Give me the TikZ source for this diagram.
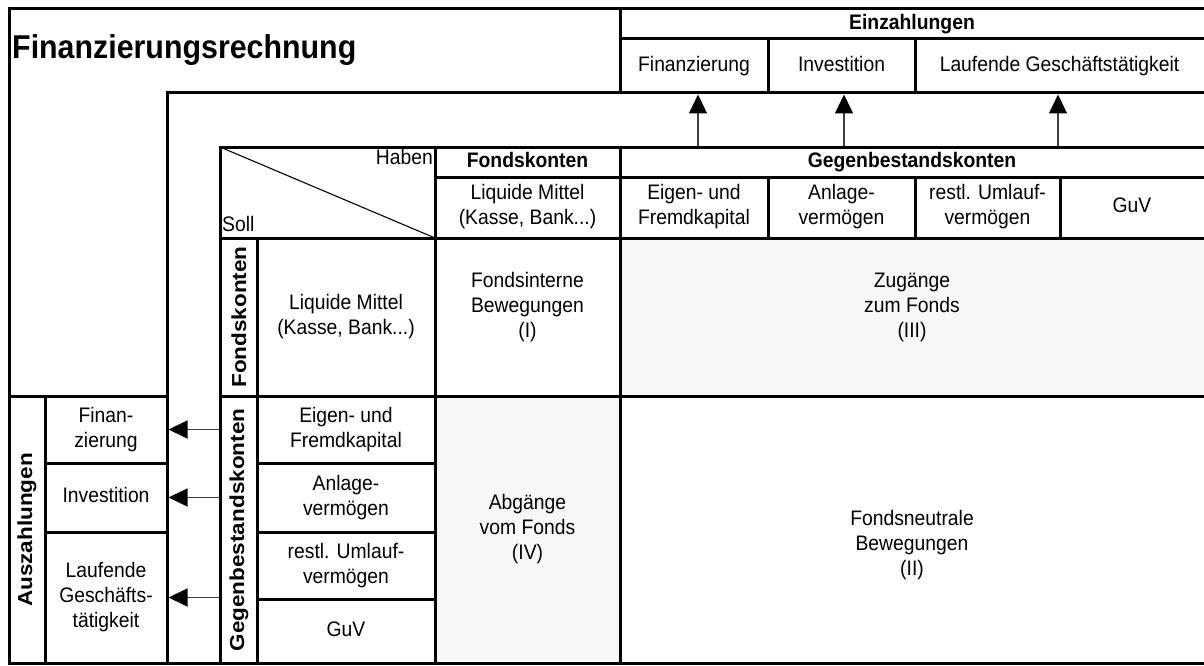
\documentclass[tikz,border=0pt]{standalone}
\usepackage{fontspec}
\setmainfont{Liberation Sans}[FakeStretch=0.92]
\newfontfamily\upright{Liberation Sans}
\usetikzlibrary{arrows.meta}
\definecolor{cellgray}{RGB}{247,247,247}
\begin{document}
\begin{tikzpicture}[x=1pt,y=-1pt,
  frame/.style={line width=3pt, line cap=rect, line join=miter},
  thinline/.style={line width=1.1pt},
  lbl/.style={align=center, font=\fontsize{21}{25}\selectfont, inner sep=0pt},
  one/.style={text height=15pt, text depth=4.5pt},
  hdr/.style={align=center, font=\fontsize{21}{25}\selectfont\bfseries, inner sep=0pt},
  vlbl/.style={rotate=90, font=\upright\fontsize{22.5}{25}\selectfont\bfseries, inner sep=0pt},
  flow/.style={line width=1.3pt, draw=black!75, -{Triangle[length=19pt,width=18pt,color=black]}},
  ]
\useasboundingbox (0,0) rectangle (1204,666);
% shaded cells
\fill[cellgray] (620,238) rectangle (1210,396);
\fill[cellgray] (435,396) rectangle (620,663);
% outer frame
\draw[frame] (1210,9) -- (9,9) -- (9,663) -- (1210,663);
% Einzahlungen block
\draw[frame] (620,9) -- (620,93);
\draw[frame] (620,39) -- (1210,39);
\draw[frame] (768,39) -- (768,93);
\draw[frame] (915,39) -- (915,93);
% second frame
\draw[frame] (167,663) -- (167,93) -- (1210,93);
% Auszahlungen block
\draw[frame] (9,396) -- (167,396);
\draw[frame] (45,396) -- (45,663);
\draw[frame] (45,463) -- (167,463);
\draw[frame] (45,532) -- (167,532);
% third frame (matrix)
\draw[frame] (220,663) -- (220,147) -- (1210,147);
\draw[frame] (435,147) -- (435,663);
\draw[frame] (620,147) -- (620,663);
\draw[frame] (435,177) -- (1210,177);
\draw[frame] (768,177) -- (768,238);
\draw[frame] (915,177) -- (915,238);
\draw[frame] (1060,177) -- (1060,238);
\draw[frame] (220,238) -- (1210,238);
\draw[frame] (257,238) -- (257,663);
\draw[frame] (220,396) -- (1210,396);
\draw[frame] (257,463) -- (435,463);
\draw[frame] (257,532) -- (435,532);
\draw[frame] (257,599) -- (435,599);
% diagonal of the corner cell
\coordinate (cornerTL) at (220,147);
\coordinate (cornerBR) at (435,238);
\draw[thinline] (cornerTL) -- (cornerBR);

% texts
\node[anchor=west, inner sep=0pt, font=\fontsize{33}{38}\selectfont\bfseries] (title) at (12,50) {Finanzierungsrechnung};
\node[hdr, one] (einz) at (912,24) {Einzahlungen};
\node[lbl, one] (einFin) at (694,66) {Finanzierung};
\node[lbl, one] (einInv) at (841.5,66) {Investition};
\node[lbl, one] (einLfd) at (1059.5,66) {Laufende Geschäftstätigkeit};

\node[lbl, one, anchor=east] (haben) at (433,159) {Haben};
\node[lbl, one, anchor=west] (soll) at (222,226) {Soll};
\node[hdr, one] (fkH) at (527.5,162) {Fondskonten};
\node[hdr, one] (gbkH) at (912,162) {Gegenbestandskonten};
\node[lbl] (liqH) at (527.5,207) {Liquide Mittel\\(Kasse, Bank...)};
\node[lbl] (ekH) at (694,207) {Eigen- und\\Fremdkapital};
\node[lbl] (avH) at (841.5,207) {Anlage-\\vermögen};
\node[lbl] (uvH) at (987.5,207) {restl. Umlauf-\\vermögen};
\node[lbl, one] (guvH) at (1132,207) {GuV};

\node[vlbl] (fkV) at (239,317) {\scalebox{1}[0.9]{Fondskonten}};
\node[lbl] (liqV) at (346,317) {Liquide Mittel\\(Kasse, Bank...)};
\node[vlbl] (gbkV) at (239,530) {\scalebox{1}[0.9]{Gegenbestandskonten}};
\node[lbl] (ekV) at (346,429.5) {Eigen- und\\Fremdkapital};
\node[lbl] (avV) at (346,497.5) {Anlage-\\vermögen};
\node[lbl] (uvV) at (346,565.5) {restl. Umlauf-\\vermögen};
\node[lbl, one] (guvV) at (346,631) {GuV};

\node[vlbl] (ausV) at (27,530) {\scalebox{1}[0.9]{Auszahlungen}};
\node[lbl] (ausFin) at (106,429.5) {Finan-\\zierung};
\node[lbl, one] (ausInv) at (106,497.5) {Investition};
\node[lbl] (ausLfd) at (106,597.5) {Laufende\\Geschäfts-\\tätigkeit};

\node[lbl] (fi) at (527.5,307) {Fondsinterne\\Bewegungen\\(I)};
\node[lbl] (zu) at (912,307) {Zugänge\\zum Fonds\\(III)};
\node[lbl] (ab) at (527.5,529) {Abgänge\\vom Fonds\\(IV)};
\node[lbl] (fn) at (912,545) {Fondsneutrale\\Bewegungen\\(II)};

% arrows up to Einzahlungen
\coordinate (u1s) at (698,145.5); \coordinate (u1e) at (698,94.5);
\coordinate (u2s) at (844,145.5); \coordinate (u2e) at (844,94.5);
\coordinate (u3s) at (1058,145.5); \coordinate (u3e) at (1058,94.5);
\draw[flow] (u1s) -- (u1e);
\draw[flow] (u2s) -- (u2e);
\draw[flow] (u3s) -- (u3e);
% arrows left to Auszahlungen
\coordinate (l1s) at (218.5,429.5); \coordinate (l1e) at (168.5,429.5);
\coordinate (l2s) at (218.5,497.5); \coordinate (l2e) at (168.5,497.5);
\coordinate (l3s) at (218.5,597.5); \coordinate (l3e) at (168.5,597.5);
\draw[flow] (l1s) -- (l1e);
\draw[flow] (l2s) -- (l2e);
\draw[flow] (l3s) -- (l3e);
\end{tikzpicture}
\end{document}
